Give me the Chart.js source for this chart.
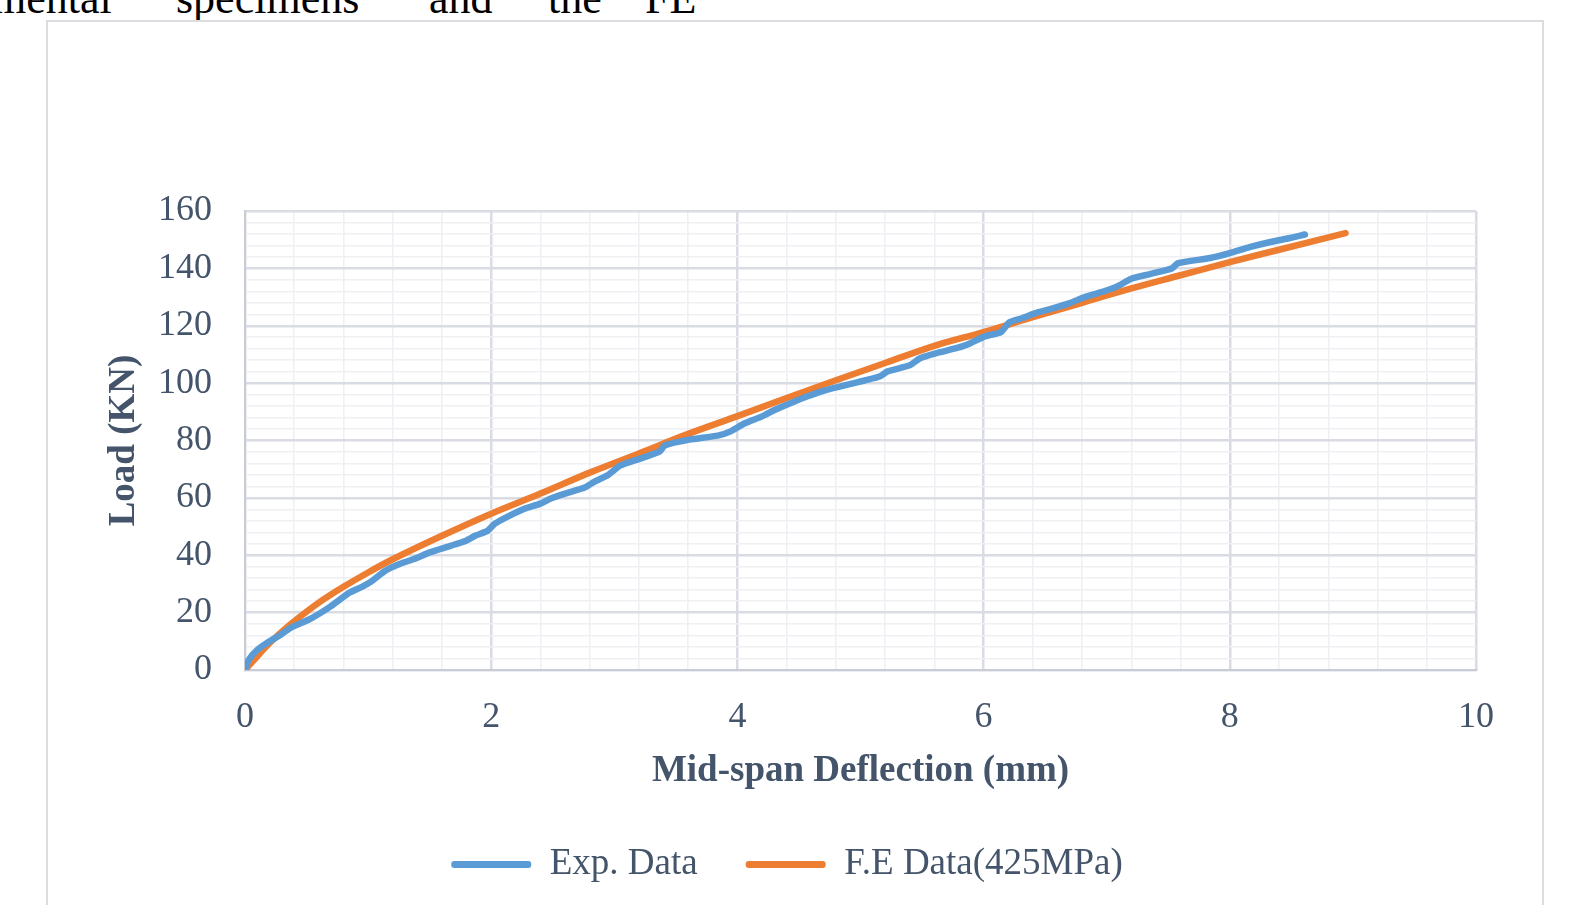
<!DOCTYPE html>
<html>
<head>
<meta charset="utf-8">
<script src="https://cdn.jsdelivr.net/npm/chart.js@4"></script>
<style>
  html, body { margin: 0; padding: 0; background: #fff; overflow: hidden; width: 1569px; height: 905px; }
  .line span { position: absolute; top: -23px; font: 44px "Liberation Serif", "Times New Roman", serif; line-height: 1; color: #000; white-space: nowrap; }
  #box { position: absolute; left: 46px; top: 20px; width: 1498px; height: 932px; border: 2px solid #dcdde0; box-sizing: border-box; }
</style>
</head>
<body>
<div class="line">
  <span style="left:-8px">mental</span>
  <span style="left:176px">specimens</span>
  <span style="left:429px">and</span>
  <span style="left:548px">the</span>
  <span style="left:645px">FE</span>
</div>
<div id="box"><canvas id="chart"></canvas></div>
<script>
// Experimental curve (deflection mm, load kN)
const expX = [0, 0.03, 0.1, 0.2, 0.28, 0.37, 0.53, 0.69, 0.85, 0.95, 1.03, 1.14, 1.26, 1.38, 1.5, 1.67, 1.79, 1.87, 1.97,
  2.03, 2.15, 2.27, 2.4, 2.48, 2.6, 2.76, 2.84, 2.95, 3.05, 3.21, 3.37, 3.41, 3.61, 3.84, 3.94, 4.06, 4.2, 4.31, 4.43,
  4.57, 4.71, 4.87, 5.04, 5.16, 5.22, 5.4, 5.48, 5.61, 5.77, 5.87, 6.01, 6.14, 6.21, 6.31, 6.42, 6.54, 6.7, 6.82, 6.99,
  7.09, 7.2, 7.35, 7.53, 7.58, 7.84, 8.0, 8.16, 8.33, 8.49, 8.61];
const expY = [0, 3.5, 7, 10, 12, 14.7, 17.8, 22, 27, 29, 31, 34.6, 37, 38.8, 41, 43.3, 45, 46.8, 48.5,
  51, 53.8, 56.2, 58, 59.7, 61.5, 63.6, 65.7, 68, 71.3, 73.7, 76.2, 78.3, 80.3, 81.7, 83.1, 86, 88.4, 90.8, 93,
  95.4, 97.5, 99.2, 101, 102.4, 104.1, 106.2, 108.6, 110.4, 112.1, 113.5, 116.3, 117.8, 121.2, 122.6, 124.4, 125.8, 127.9, 130, 132.2,
  133.8, 136.4, 138, 140, 141.8, 143.6, 145.3, 147.4, 149.2, 150.6, 151.8];

// F.E model (425MPa)
const feX = [0, 0.1, 0.2, 0.3, 0.4, 0.6, 0.8, 1.0, 1.2, 1.6, 2.0, 2.4, 2.8, 3.2, 3.6, 4.0, 4.4, 4.8, 5.2, 5.6,
  6.0, 6.4, 6.8, 7.2, 7.6, 8.0, 8.4, 8.94];
const feY = [0, 4.8, 9.4, 13.4, 17, 23.5, 29, 34, 38.6, 46.8, 54.5, 61.5, 68.8, 75.5, 82.3, 88.5, 94.8, 101, 107, 113,
  117.8, 123, 128, 133, 137.6, 142.2, 146.5, 152.3];

const seriesNames = ["Exp. Data", "F.E Data(425MPa)"];

const xMajor = 2, yMajor = 20;
const ink = "#44546a";
const serif = '"Liberation Serif", "Times New Roman", serif';

function toPoints(xs, ys) {
  return xs.map((x, i) => ({ x: x, y: ys[i] }));
}
function isMajor(v, step) {
  return Math.abs(v / step - Math.round(v / step)) < 1e-6;
}

new Chart(document.getElementById("chart"), {
  type: "scatter",
  data: {
    datasets: [
      {
        label: seriesNames[0],
        data: toPoints(expX, expY),
        showLine: true,
        borderColor: "#5b9bd5",
        backgroundColor: "#5b9bd5",
        borderWidth: 6.5,
        pointRadius: 0,
        borderCapStyle: "round",
        borderJoinStyle: "round",
        tension: 0.2
      },
      {
        label: seriesNames[1],
        data: toPoints(feX, feY),
        showLine: true,
        borderColor: "#ed7d31",
        backgroundColor: "#ed7d31",
        borderWidth: 6.5,
        pointRadius: 0,
        borderCapStyle: "round",
        borderJoinStyle: "round",
        cubicInterpolationMode: "monotone"
      }
    ]
  },
  options: {
    responsive: true,
    maintainAspectRatio: false,
    animation: false,
    layout: { padding: { left: 50, right: 66, top: 189, bottom: 57 } },
    plugins: {
      tooltip: { enabled: false },
      legend: {
        position: "bottom",
        labels: {
          color: ink,
          font: { family: serif, size: 37 },
          boxWidth: 80,
          boxHeight: 7,
          padding: 48,
          useBorderRadius: true,
          borderRadius: 3,
          generateLabels: (chart) =>
            Chart.defaults.plugins.legend.labels.generateLabels(chart).map((l) => ({ ...l, lineWidth: 0 }))
        }
      }
    },
    scales: {
      x: {
        type: "linear",
        min: 0,
        max: 10,
        afterFit: (s) => { s.height = 128; },
        ticks: {
          stepSize: 0.4,
          autoSkip: false,
          maxRotation: 0,
          padding: 26,
          color: ink,
          font: { family: serif, size: 36 },
          callback: (v) => isMajor(v, xMajor) ? String(Math.round(v)) : ""
        },
        grid: {
          drawTicks: false,
          color: (c) => isMajor(c.tick.value, xMajor) ? "#d9dce3" : "#eff0f3",
          lineWidth: (c) => isMajor(c.tick.value, xMajor) ? 2.5 : 1.5
        },
        border: { color: "#c9ccd6", width: 2 },
        title: {
          display: true,
          text: "Mid-span Deflection (mm)",
          color: ink,
          padding: { top: 4, bottom: 4 },
          font: { family: serif, size: 37, weight: "bold" }
        }
      },
      y: {
        min: 0,
        max: 160,
        afterFit: (s) => { s.width = 147; },
        ticks: {
          stepSize: 4,
          autoSkip: false,
          padding: 33,
          color: ink,
          font: { family: serif, size: 36 },
          callback: (v) => isMajor(v, yMajor) ? String(Math.round(v)) : ""
        },
        grid: {
          drawTicks: false,
          color: (c) => isMajor(c.tick.value, yMajor) ? "#d9dce3" : "#eff0f3",
          lineWidth: (c) => isMajor(c.tick.value, yMajor) ? 2.5 : 1.5
        },
        border: { color: "#c9ccd6", width: 2 },
        title: {
          display: true,
          text: "Load (KN)",
          color: ink,
          font: { family: serif, size: 37, weight: "bold" }
        }
      }
    }
  }
});
</script>
</body>
</html>
